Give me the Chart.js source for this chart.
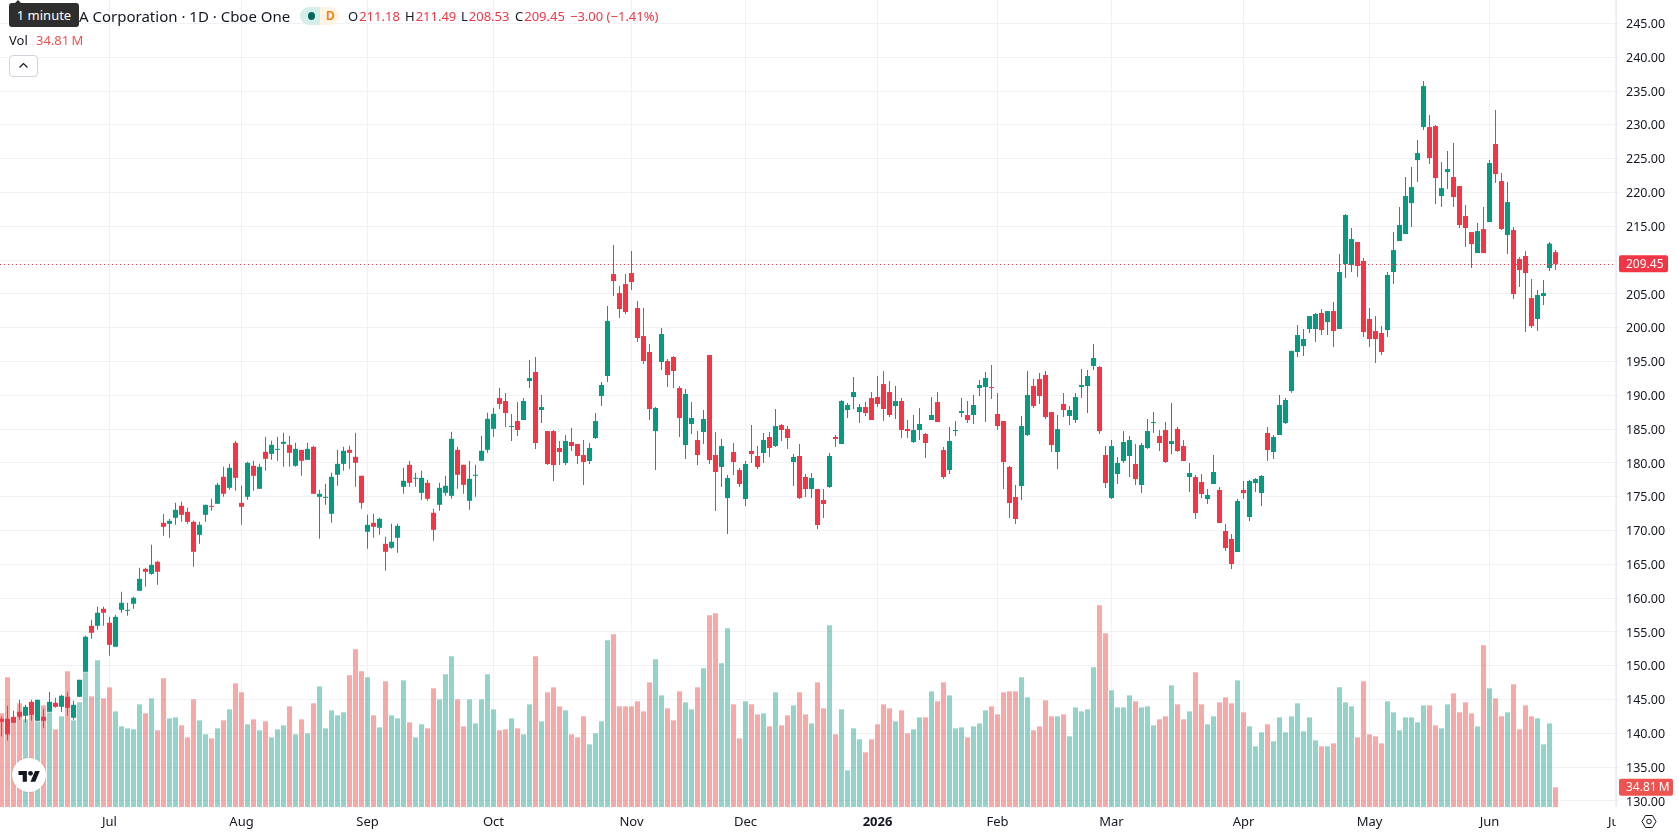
<!DOCTYPE html>
<html lang="en">
<head>
<meta charset="utf-8">
<title>NVIDIA Corporation 1D</title>
<script src="https://cdn.jsdelivr.net/npm/chart.js@4/dist/chart.umd.js"></script>
<style>
  html, body { margin: 0; padding: 0; background: #fff; overflow: hidden; }
  #stage { position: relative; width: 1678px; height: 835px; font-family: "Noto Sans", sans-serif; color: #131722; }
  canvas { position: absolute; left: 0; top: 0; }
  .txt { position: absolute; white-space: nowrap; line-height: 18px; font-size: 13px; }
  .red { color: #f23645; }
  .vol { color: #ef5350; }
  #hint { position: absolute; left: 9px; top: 3px; width: 70px; height: 24px; background: #2e2e2e; border-radius: 3px;
          color: #fff; font-size: 13px; line-height: 24px; text-align: center; }
  #hint::before { content: ""; position: absolute; left: 5px; top: -3px; border: 4px solid transparent; border-top: 0; border-bottom-color: #2e2e2e; }
  #status { position: absolute; left: 300px; top: 7px; width: 39px; height: 18px; border-radius: 9px; overflow: hidden; }
  #status i { position: absolute; top: 0; height: 18px; display: block; }
  #collapse { position: absolute; left: 9px; top: 55px; width: 27px; height: 20px; border: 1px solid #d1d4dc; border-radius: 4px; background: #fff; }
  #logo { position: absolute; left: 12px; top: 758px; width: 34px; height: 34px; border-radius: 50%; background: #fff; box-shadow: 0 0 2px rgba(0,0,0,.15); }
  #corner { position: absolute; left: 1616px; top: 807px; width: 62px; height: 28px; background: #fff; }
</style>
</head>
<body>
<div id="stage">
  <canvas id="chart" width="1678" height="835"></canvas>

  <div class="txt" style="left:79px;top:7px;font-size:15px;">A Corporation · 1D · Cboe One</div>
  <div id="hint">1 minute</div>
  <div id="status">
    <i style="left:0;width:20px;background:#d5eeea;"></i>
    <i style="left:20px;width:19px;background:#fff3e3;"></i>
    <i style="left:8px;top:5px;width:7px;height:8px;border-radius:50%;background:#056656;"></i>
    <span style="position:absolute;left:26px;top:0;font-size:12px;line-height:18px;font-weight:600;color:#f57c00;">D</span>
  </div>
  <div class="txt" style="left:348px;top:7px;">O<span class="red" style="margin-left:1px;">211.18</span></div>
  <div class="txt" style="left:405px;top:7px;">H<span class="red" style="margin-left:1px;">211.49</span></div>
  <div class="txt" style="left:461px;top:7px;">L<span class="red" style="margin-left:1px;">208.53</span></div>
  <div class="txt" style="left:515px;top:7px;">C<span class="red" style="margin-left:1px;">209.45</span></div>
  <div class="txt red" style="left:570px;top:7px;">−3.00 (−1.41%)</div>
  <div class="txt" style="left:9px;top:31px;">Vol</div>
  <div class="txt vol" style="left:36px;top:31px;">34.81&#8239;M</div>
  <div id="collapse">
    <svg width="27" height="20" viewBox="0 0 27 20"><polyline points="9.5,11.5 13.5,7.5 17.5,11.5" fill="none" stroke="#131722" stroke-width="1.2"/></svg>
  </div>
  <div id="logo">
    <svg width="34" height="34" viewBox="0 0 34 34"><g transform="translate(6.5 10.5) scale(0.6)"><path d="M14 22H7V11H0V4h14v18zM28 22h-8l7.5-18h8L28 22z" fill="#131722"/><circle cx="20" cy="8" r="4" fill="#131722"/></g></svg>
  </div>
  <div id="corner">
    <svg width="62" height="28" viewBox="0 0 62 28" style="position:absolute;left:0;top:0;"><path d="M29.5 8.5h7l3.5 6-3.5 6h-7l-3.5-6z" fill="none" stroke="#131722" stroke-width="1"/><circle cx="33" cy="14.5" r="2.3" fill="none" stroke="#131722" stroke-width="1"/></svg>
  </div>
</div>

<script>
// Daily OHLC and volume (volume in millions), oldest session first.
const opens = [
    142.16, 142.16, 142.45, 143.19, 142.6, 144.67, 141.86, 142.45, 143.19, 144.52,
    143.93, 145.41, 142.31, 145.41, 149.11, 155.91, 155.91, 158.43, 156.36, 152.81,
    158.28, 158.13, 159.17, 161.09, 164.34, 163.6, 165.38, 171.15, 171, 171.89,
    173.66, 172.77, 171.29, 169.37, 172.33, 173.66, 173.96, 177.95, 176.32, 182.98,
    174.1, 174.99, 179.58, 176.18, 181.65, 181.35, 181.94, 182.83, 182.68, 179.58,
    181.94, 180.46, 182.38, 174.99, 174.84, 172.48, 178.25, 179.87, 181.94, 180.91,
    178.1, 169.82, 171.15, 170.41, 168.04, 167.45, 168.93, 176.47, 179.72, 177.65,
    175.58, 177.06, 172.63, 173.81, 175.58, 175.14, 181.94, 179.72, 174.4, 178.1,
    180.32, 181.94, 185.05, 189.6, 189.16, 185.31, 186.2, 186.35, 192.12, 193.45,
    187.83, 184.72, 184.72, 182.21, 179.99, 183.1, 182.8, 181.17, 180.29, 183.69,
    189.9, 192.86, 207.94, 205.13, 206.46, 208.09, 202.91, 198.77, 196.41, 184.72,
    194.93, 195.08, 195.67, 191.08, 182.65, 185.76, 183.39, 184.58, 195.96, 181.17,
    179.4, 174.81, 181.62, 178.95, 174.67, 181.77, 181.03, 181.47, 183.84, 182.5,
    185.61, 185.02, 180.14, 181.03, 177.92, 176.14, 176.14, 174.52, 176.44, 183.84,
    182.8, 187.83, 189.75, 187.53, 188.27, 189.6, 189.75, 191.67, 190.49, 188.42,
    189.16, 185.02, 183.1, 184.87, 184.28, 186.35, 189.01, 181.91, 178.95, 184.72,
    187.39, 187.09, 187.09, 191.08, 191.23, 191.23, 187.24, 186.2, 179.4, 174.96,
    176.59, 184.13, 191.38, 192.41, 193.01, 187.53, 181.62, 188.72, 186.94, 186.35,
    191.23, 191.38, 194.34, 194.19, 181.17, 174.81, 178.36, 180.29, 181.03, 179.84,
    176.74, 182.21, 185.9, 183.98, 184.87, 182.8, 185.02, 182.5, 177.92, 177.92,
    177.18, 174.67, 176.88, 176, 169.93, 168.75, 166.83, 176, 172, 177.03,
    175.55, 184.43, 181.62, 184.13, 185.9, 190.65, 196.41, 197.29, 199.81, 199.81,
    202.18, 200.84, 202.47, 199.81, 209.42, 209.27, 212.68, 209.87, 201.29, 199.51,
    199.22, 199.66, 208.24, 212.82, 213.86, 218.44, 224.8, 229.68, 229.68, 229.83,
    219.48, 223.03, 222.29, 220.96, 216.52, 214.15, 211.05, 214.6, 215.63, 227.17,
    221.7, 213.71, 214.45, 210.16, 210.61, 204.39, 201.29, 204.69, 208.83, 211.18
];
const highs = [
    142.5, 144.08, 143.34, 144.97, 144.23, 144.97, 144.97, 143.64, 146.15, 145.26,
    145.71, 146.15, 144.82, 147.93, 154.43, 156.8, 158.72, 158.72, 157.24, 157.54,
    160.94, 159.31, 160.2, 164.49, 164.49, 167.89, 165.53, 172.48, 171.74, 174.1,
    174.25, 173.37, 171.44, 171.29, 173.81, 174.7, 177.06, 179.43, 179.87, 183.27,
    176.62, 180.17, 180.32, 179.87, 183.87, 183.27, 183.87, 184.46, 184.01, 182.98,
    181.94, 182.98, 182.53, 176.03, 176.91, 178.54, 181.94, 182.38, 182.53, 184.46,
    178.1, 172.33, 172.48, 171.89, 169.08, 171, 171, 179.28, 180.32, 178.54,
    178.84, 177.51, 173.22, 177.06, 178.1, 184.61, 182.38, 179.72, 180.32, 179.72,
    184.01, 187.42, 188.16, 191.08, 190.34, 187.24, 189.01, 189.6, 195.22, 195.67,
    190.05, 184.72, 184.87, 183.24, 184.13, 185.17, 182.8, 183.39, 182.95, 187.39,
    191.97, 203.21, 212.23, 206.17, 207.94, 211.35, 203.95, 202.91, 197.59, 188.27,
    199.96, 195.37, 195.82, 191.38, 190.93, 189.01, 184.72, 187.83, 195.96, 184.58,
    183.54, 178.22, 182.95, 179.25, 180.29, 185.61, 182.5, 184.43, 184.58, 187.98,
    185.76, 185.46, 181.32, 182.8, 178.36, 178.51, 176.14, 176.14, 181.47, 184.13,
    189.31, 188.86, 192.71, 188.72, 189.01, 190.49, 192.86, 193.6, 192.12, 191.38,
    189.6, 186.35, 187.09, 188.12, 184.43, 189.75, 190.49, 182.36, 185.31, 186.2,
    189.6, 189.16, 190.05, 192.27, 193.45, 194.48, 190.34, 186.2, 179.55, 176.74,
    186.94, 193.6, 192.41, 193.3, 193.6, 187.53, 187.09, 190.34, 188.42, 190.34,
    193.89, 193.74, 197.59, 194.34, 182.5, 183.39, 180.88, 184.72, 183.98, 182.8,
    182.95, 186.5, 187.53, 184.87, 186.05, 188.86, 185.31, 183.39, 179.99, 178.22,
    178.36, 176.14, 181.17, 176.44, 170.97, 169.49, 174.67, 177.33, 177.48, 177.77,
    178.22, 185.31, 184.13, 190.05, 189.6, 196.6, 200.4, 199.81, 201.73, 202.18,
    202.77, 202.47, 203.8, 210.9, 216.82, 214.75, 212.68, 210.31, 202.91, 201.73,
    200.25, 208.24, 214.15, 217.85, 222.29, 223.77, 227.76, 236.49, 231.46, 229.98,
    224.51, 226.14, 227.32, 220.96, 218.15, 214.15, 215.49, 217.85, 224.8, 232.2,
    222.88, 221.55, 214.89, 210.46, 211.35, 207.2, 205.58, 207.05, 212.68, 211.49
];
const lows = [
    139.55, 138.95, 141.57, 142.01, 141.62, 141.86, 141.86, 140.83, 143.19, 143.78,
    143.19, 142.6, 142.01, 145.41, 149.11, 153.99, 155.32, 155.91, 151.48, 152.81,
    157.84, 157.39, 158.43, 161.09, 161.68, 163.45, 161.98, 169.22, 168.93, 170.85,
    171.29, 171, 164.64, 168.04, 171.29, 172.92, 173.96, 174.99, 176.03, 175.88,
    170.85, 174.55, 175.88, 176.18, 178.84, 180.46, 180.32, 179.43, 179.43, 179.43,
    178.1, 180.46, 175.44, 168.78, 173.81, 171.15, 176.62, 178.84, 179.13, 176.47,
    173.22, 167.3, 168.93, 169.37, 164.05, 167.3, 166.71, 175.44, 176.47, 176.47,
    174.55, 174.4, 168.48, 172.92, 175.14, 174.7, 176.18, 175.44, 173.07, 174.99,
    180.32, 181.5, 183.87, 187.98, 185.31, 183.24, 183.98, 186.35, 191.08, 182.06,
    185.91, 179.69, 177.33, 179.69, 179.69, 181.77, 179.84, 176.74, 179.84, 183.54,
    188.42, 191.97, 204.69, 201.44, 202.03, 205.58, 197.89, 194.63, 186.35, 178.95,
    193.74, 191.23, 191.08, 183.84, 180.58, 184.28, 179.69, 182.8, 179.84, 172.89,
    176.44, 169.49, 178.22, 176.44, 173.63, 179.99, 179.1, 179.99, 180.88, 182.36,
    183.24, 182.06, 176.59, 174.67, 174.96, 174.81, 170.23, 171.86, 176.29, 182.36,
    182.8, 186.65, 187.98, 185.91, 186.94, 186.35, 188.27, 186.2, 186.79, 186.5,
    183.69, 183.69, 182.95, 183.39, 180.73, 186.35, 186.05, 177.62, 178.36, 183.98,
    186.79, 185.91, 185.76, 189.9, 186.05, 189.46, 184.87, 176.14, 171.86, 170.97,
    174.52, 183.98, 188.12, 188.72, 186.5, 181.62, 179.1, 186.79, 185.61, 185.91,
    189.6, 187.39, 193.74, 184.28, 176.29, 174.67, 176.88, 179.99, 177.92, 176.74,
    175.55, 182.06, 184.43, 181.77, 179.99, 181.32, 181.62, 180.29, 175.7, 171.71,
    174.81, 173.93, 176.88, 171.12, 166.98, 164.31, 166.83, 174.67, 171.41, 175.7,
    173.63, 180.29, 180.58, 184.13, 185.76, 190.4, 195.67, 195.82, 199.22, 197.89,
    198.92, 198.92, 197.15, 199.81, 207.35, 208.24, 207.5, 198.63, 197.15, 194.78,
    195.96, 198.63, 206.46, 212.82, 213.86, 214.89, 221.55, 229.24, 224.21, 218.29,
    217.85, 220.51, 217.85, 214.75, 211.94, 208.83, 211.05, 211.05, 215.63, 221.4,
    214.45, 210.9, 204.24, 206.02, 199.36, 199.96, 199.51, 203.36, 208.39, 208.53
];
const closes = [
    141.71, 139.84, 141.57, 142.45, 143.93, 142.75, 144.97, 141.86, 144.67, 143.93,
    145.56, 143.78, 144.23, 147.93, 154.29, 154.88, 157.84, 157.84, 153.1, 157.24,
    159.31, 158.28, 160.05, 162.86, 163.9, 164.93, 163.9, 170.56, 171.44, 173.07,
    172.33, 171.29, 166.86, 170.85, 173.81, 173.51, 176.77, 175.44, 179.28, 177.8,
    173.51, 180.02, 178.1, 179.43, 180.61, 182.68, 182.09, 183.13, 181.5, 182.09,
    180.32, 182.09, 175.44, 175.44, 174.99, 177.95, 179.87, 181.8, 181.5, 180.02,
    174.1, 170.85, 170.56, 171.74, 166.86, 168.34, 170.7, 177.36, 177.06, 177.8,
    177.8, 174.7, 170.11, 176.32, 176.62, 183.57, 178.25, 176.77, 177.65, 178.25,
    181.8, 186.53, 187.27, 188.72, 187.39, 185.46, 184.87, 189.16, 192.56, 182.95,
    188.27, 179.84, 179.69, 181.62, 183.24, 182.5, 181.03, 180.14, 182.21, 186.2,
    191.53, 200.99, 206.91, 202.77, 202.32, 206.76, 198.48, 195.08, 187.98, 188.12,
    199.07, 193.01, 193.6, 186.65, 190.2, 186.65, 181.17, 186.5, 180.43, 178.66,
    182.5, 177.77, 180.14, 176.88, 179.84, 181.32, 179.4, 183.39, 182.21, 185.46,
    184.87, 183.69, 180.88, 174.81, 176.14, 177.77, 170.82, 173.93, 181.03, 183.54,
    189.16, 188.57, 190.49, 188.27, 187.39, 186.35, 188.72, 187.98, 187.09, 189.16,
    184.87, 184.72, 184.87, 185.76, 182.95, 187.09, 186.05, 177.92, 183.24, 184.87,
    187.68, 186.35, 188.57, 191.53, 192.56, 191.08, 185.46, 180.14, 174.07, 171.71,
    185.46, 190.05, 188.42, 189.9, 186.79, 182.65, 185.02, 187.83, 187.83, 189.75,
    191.53, 192.86, 195.52, 184.72, 177.03, 182.5, 179.99, 183.1, 183.39, 177.62,
    182.65, 184.72, 186.05, 182.95, 180.14, 183.24, 181.77, 180.29, 178.51, 172.6,
    175.41, 175.26, 178.66, 171.12, 167.42, 165.05, 174.37, 175.55, 177.33, 177.62,
    178.07, 181.91, 183.84, 188.57, 189.31, 196.57, 198.92, 198.33, 201.73, 202.03,
    199.66, 202.47, 199.51, 208.24, 216.67, 213.12, 209.13, 199.36, 198.33, 198.33,
    196.41, 207.8, 211.49, 215.19, 219.48, 220.81, 225.84, 235.75, 225.1, 222.14,
    220.66, 223.47, 219.33, 215.19, 214.75, 212.38, 214.3, 211.05, 224.36, 222.73,
    214.6, 218.59, 204.98, 208.53, 208.09, 200.25, 204.84, 205.13, 212.45, 209.45
];
const volumes = [
    165.5, 229.1, 158.4, 183.2, 154.9, 170.8, 151.4, 179.6, 167.3, 137.2,
    160.2, 239.7, 153.1, 184.9, 238.0, 195.5, 259.2, 192.0, 211.5, 169.0,
    142.5, 139.0, 137.2, 181.4, 165.5, 192.0, 135.5, 227.4, 156.7, 158.4,
    144.3, 123.1, 190.2, 153.1, 128.4, 121.3, 139.0, 153.1, 172.6, 218.5,
    202.6, 146.1, 154.9, 135.5, 151.4, 123.1, 137.2, 144.3, 177.9, 128.4,
    154.9, 130.2, 183.2, 213.2, 139.0, 170.8, 162.0, 167.3, 232.7, 278.6,
    239.7, 229.1, 162.0, 140.8, 222.1, 162.0, 156.7, 223.8, 149.6, 123.1,
    146.1, 139.0, 209.7, 190.2, 234.4, 266.2, 190.2, 142.5, 190.2, 147.8,
    190.2, 234.4, 172.6, 135.5, 137.2, 156.7, 139.0, 128.4, 181.4, 266.2,
    151.4, 202.6, 211.5, 177.9, 170.8, 128.4, 123.1, 160.2, 110.7, 130.2,
    151.4, 294.5, 305.1, 177.9, 177.9, 177.9, 186.7, 169.0, 220.3, 260.9,
    197.3, 174.3, 153.1, 204.4, 184.9, 172.6, 211.5, 245.0, 338.7, 342.2,
    253.9, 315.7, 181.4, 121.3, 186.7, 181.4, 163.7, 165.5, 142.5, 202.6,
    144.3, 162.0, 179.6, 202.6, 163.7, 147.8, 220.3, 174.3, 321.0, 128.4,
    172.6, 64.8, 139.0, 119.6, 96.6, 119.6, 146.1, 181.4, 174.3, 151.4,
    170.8, 130.2, 137.2, 158.4, 158.4, 204.4, 186.7, 220.3, 197.3, 139.0,
    140.8, 123.1, 142.5, 147.8, 170.8, 177.9, 163.7, 202.6, 204.4, 204.4,
    229.1, 193.8, 135.5, 142.5, 188.5, 160.2, 160.2, 163.7, 124.9, 176.1,
    169.0, 172.6, 246.8, 356.3, 306.9, 206.2, 176.1, 176.1, 197.3, 186.7,
    176.1, 177.9, 144.3, 154.9, 160.2, 215.0, 181.4, 154.9, 169.0, 238.0,
    181.4, 146.1, 160.2, 184.9, 193.8, 183.2, 223.8, 167.3, 142.5, 107.2,
    131.9, 146.1, 116.0, 158.4, 131.9, 160.2, 183.2, 133.7, 158.4, 117.8,
    107.2, 107.2, 112.5, 211.5, 184.9, 177.9, 123.1, 222.1, 128.4, 124.9,
    112.5, 186.7, 167.3, 135.5, 158.4, 158.4, 149.6, 179.6, 179.6, 144.3,
    139.0, 181.4, 200.8, 167.3, 184.9, 165.5, 142.5, 285.7, 209.7, 192.0,
    160.2, 167.3, 216.8, 137.2, 179.6, 160.2, 156.7, 110.7, 147.8, 34.81
];

// Session index at which each month starts, with its axis label.
const monthStarts = [18, 40, 61, 82, 105, 124, 146, 166, 185, 207, 228, 248, 269];
const monthLabels = ['Jul', 'Aug', 'Sep', 'Oct', 'Nov', 'Dec', '2026', 'Feb', 'Mar', 'Apr', 'May', 'Jun', 'Jul'];
const priceTicks = [130, 135, 140, 145, 150, 155, 160, 165, 170, 175, 180, 185, 190, 195, 200, 205, 210, 215, 220, 225, 230, 235, 240, 245];

const lastPrice = 209.45;
const lastVolume = 34.81;

const UP = '#089981';
const DOWN = '#f23645';
const GRID = '#f0f1f4';
const FONT = '"Noto Sans", sans-serif';

const isUp = closes.map((c, i) => c >= opens[i]);

/**
 * Draws a rounded price-scale tag with its label.
 */
function drawTag(ctx, x, y, w, h, color, label) {
    ctx.fillStyle = color;
    ctx.beginPath();
    ctx.roundRect(x, y, w, h, 2);
    ctx.fill();
    ctx.fillStyle = '#fff';
    ctx.font = '12px ' + FONT;
    ctx.textAlign = 'left';
    ctx.textBaseline = 'middle';
    ctx.fillText(label, x + 7, y + h / 2 + 0.5);
}

// Dotted last-price line plus the two value tags on the price scale.
const lastValuePlugin = {
    id: 'lastValue',
    afterDatasetsDraw(chart) {
        const { ctx, chartArea, scales } = chart;
        const y = Math.round(scales.y.getPixelForValue(lastPrice)) + 0.5;
        ctx.save();
        ctx.strokeStyle = DOWN;
        ctx.lineWidth = 1;
        ctx.setLineDash([1, 3]);
        ctx.beginPath();
        ctx.moveTo(chartArea.left, y);
        ctx.lineTo(chartArea.right, y);
        ctx.stroke();
        ctx.restore();
    },
    afterDraw(chart) {
        const { ctx, scales } = chart;
        const priceY = scales.y.getPixelForValue(lastPrice);
        const volY = scales.yVol.getPixelForValue(lastVolume);
        ctx.save();
        drawTag(ctx, 1619, priceY - 8.5, 49, 17, DOWN, lastPrice.toFixed(2));
        drawTag(ctx, 1619, volY - 8.5, 54, 17, '#ef5350', lastVolume.toFixed(2) + '\u202fM');
        ctx.restore();
    }
};

new Chart(document.getElementById('chart'), {
    type: 'bar',
    data: {
        datasets: [
            {
                // Candle bodies
                data: opens.map((o, i) => ({ x: i, y: [o, closes[i]] })),
                backgroundColor: isUp.map(u => (u ? UP : DOWN)),
                barThickness: 5,
                grouped: false,
                inflateAmount: 0,
                order: 1,
                yAxisID: 'y'
            },
            {
                // Candle wicks
                data: highs.map((h, i) => ({ x: i, y: [lows[i], h] })),
                backgroundColor: isUp.map(u => (u ? UP : DOWN)),
                barThickness: 1,
                grouped: false,
                inflateAmount: 0,
                order: 2,
                yAxisID: 'y'
            },
            {
                // Volume histogram
                data: volumes.map((v, i) => ({ x: i, y: v })),
                backgroundColor: isUp.map(u => (u ? 'rgba(8,153,129,0.43)' : 'rgba(239,83,80,0.5)')),
                barThickness: 5,
                grouped: false,
                inflateAmount: 0,
                order: 3,
                yAxisID: 'yVol'
            }
        ]
    },
    options: {
        responsive: false,
        animation: false,
        events: [],
        layout: { padding: 0 },
        plugins: { legend: { display: false }, tooltip: { enabled: false } },
        scales: {
            x: {
                type: 'linear',
                offset: false,
                min: -0.25,
                max: 269.0833,
                grid: { offset: false, color: GRID, drawTicks: false },
                border: { display: false },
                ticks: {
                    autoSkip: false,
                    maxRotation: 0,
                    minRotation: 0,
                    padding: 7,
                    color: '#131722',
                    font: ctx => ({
                        family: FONT,
                        size: 13,
                        weight: ctx.tick && ctx.tick.label === '2026' ? '700' : '400'
                    }),
                    callback: value => monthLabels[monthStarts.indexOf(value)]
                },
                afterBuildTicks(scale) {
                    scale.ticks = monthStarts.map(value => ({ value }));
                },
                afterFit(scale) {
                    scale.height = 28;
                    scale.paddingLeft = 0;
                    scale.paddingRight = 0;
                }
            },
            y: {
                type: 'linear',
                position: 'right',
                min: 129.11,
                max: 248.48,
                grid: { color: GRID, tickColor: GRID, tickLength: 3 },
                border: { color: '#e9ebf0' },
                ticks: {
                    padding: 7,
                    labelOffset: 1,
                    color: '#131722',
                    font: { family: FONT, size: 12.5 },
                    callback: value => value.toFixed(2)
                },
                afterBuildTicks(scale) {
                    scale.ticks = priceTicks.map(value => ({ value }));
                },
                afterFit(scale) {
                    scale.width = 62;
                    scale.paddingTop = 0;
                    scale.paddingBottom = 0;
                }
            },
            yVol: {
                type: 'linear',
                display: false,
                min: 0,
                max: 1426,
                grid: { display: false }
            }
        }
    },
    plugins: [lastValuePlugin]
});
</script>
</body>
</html>
